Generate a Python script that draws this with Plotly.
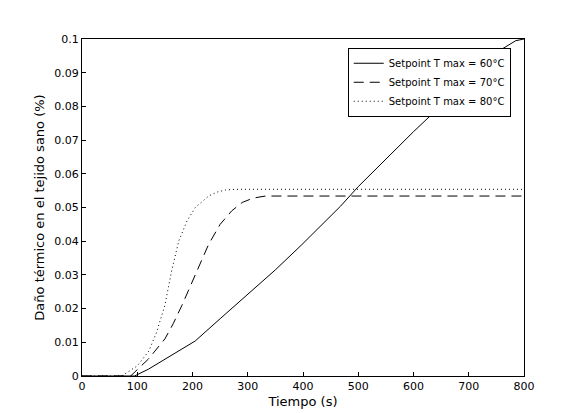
import plotly.graph_objects as go

t60 = [0, 95, 120, 145, 175, 205, 250, 301, 350, 398, 468, 500, 600, 700, 760, 785, 800]
d60 = [0, 0, 0.002, 0.0045, 0.0075, 0.0104, 0.017, 0.0245, 0.0315, 0.039, 0.0504, 0.0562, 0.0725, 0.088, 0.097, 0.0995, 0.1]
t70 = [0, 88, 120, 150, 165, 181, 205, 229, 250, 271, 290, 310, 332, 800]
d70 = [0, 0, 0.005, 0.011, 0.0155, 0.021, 0.030, 0.039, 0.045, 0.049, 0.0515, 0.0528, 0.0534, 0.0534]
t80 = [0, 72, 100, 121, 135, 150, 162, 175, 190, 205, 230, 245, 260, 280, 800]
d80 = [0, 0, 0.003, 0.0074, 0.013, 0.021, 0.031, 0.040, 0.046, 0.050, 0.0535, 0.0546, 0.0552, 0.0554, 0.0554]

fig = go.Figure()
fig.add_trace(go.Scatter(x=t60, y=d60, mode='lines', line=dict(color='black', width=1),
                         name='Setpoint T max = 60°C'))
fig.add_trace(go.Scatter(x=t70, y=d70, mode='lines', line=dict(color='black', width=1, dash='10px,6px'),
                         name='Setpoint T max = 70°C'))
fig.add_trace(go.Scatter(x=t80, y=d80, mode='lines', line=dict(color='black', width=1, dash='1px,3px'),
                         name='Setpoint T max = 80°C'))

axis = dict(showgrid=False, zeroline=False, showline=True, linecolor='black', mirror=True,
            ticks='inside', ticklen=4, tickcolor='black', tickfont=dict(size=11, color='black'),
            automargin=False)
fig.update_layout(
    width=570, height=413, plot_bgcolor='white', paper_bgcolor='white',
    font=dict(family='DejaVu Sans', color='black'),
    margin=dict(l=74, r=54, t=31, b=45, autoexpand=False),
    xaxis=dict(axis, range=[0, 800], dtick=100, title=dict(text='Tiempo (s)', font=dict(size=13), standoff=4)),
    yaxis=dict(axis, range=[0, 0.1],
               title=dict(text='Daño térmico en el tejido sano (%)', font=dict(size=13), standoff=6)),
    legend=dict(x=0.97, y=0.974, xanchor='right', yanchor='top', bgcolor='white',
                bordercolor='black', borderwidth=1, font=dict(size=10), tracegroupgap=0,
                itemwidth=30),
)
fig.update_yaxes(tickvals=[i / 100 for i in range(11)],
                 ticktext=['0'] + [f'{i/100:g}' for i in range(1, 11)])
fig.write_html("out.html")
